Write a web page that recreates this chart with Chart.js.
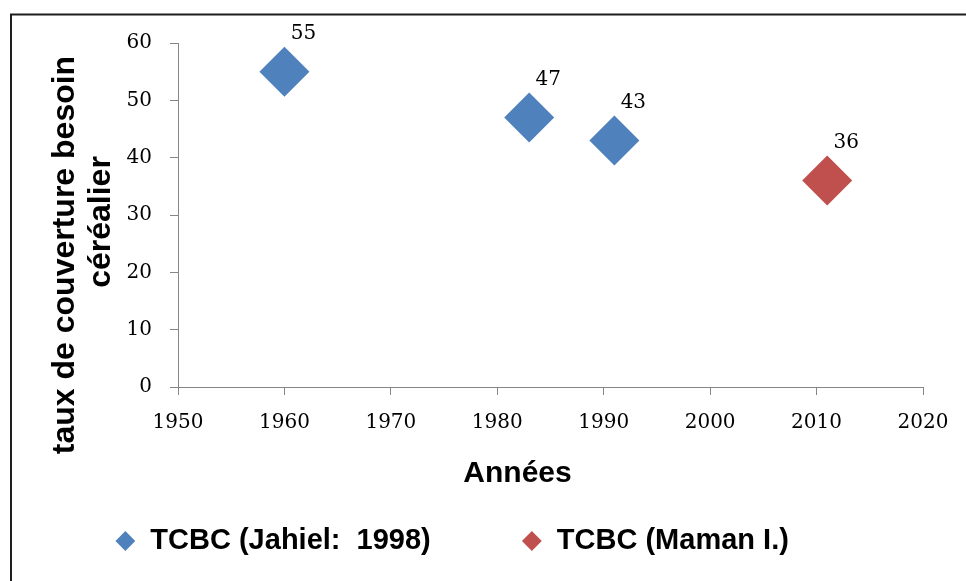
<!DOCTYPE html>
<html>
<head>
<meta charset="utf-8">
<script src="https://cdn.jsdelivr.net/npm/chart.js@4/dist/chart.umd.min.js"></script>
<style>
  html, body { margin: 0; padding: 0; background: #ffffff; }
  #wrap { position: relative; width: 966px; height: 581px; }
  canvas { display: block; }
</style>
</head>
<body>
<div id="wrap"><canvas id="c" width="966" height="581"></canvas></div>
<script>
// ---- data ----
const seriesNames = ['TCBC (Jahiel:  1998)', 'TCBC (Maman I.)'];
const jahielYears = [1960, 1983, 1991];
const jahielValues = [55, 47, 43];
const mamanYears = [2011];
const mamanValues = [36];
const xTickValues = [1950, 1960, 1970, 1980, 1990, 2000, 2010, 2020];
const xTickLabels = ['1950', '1960', '1970', '1980', '1990', '2000', '2010', '2020'];
const yTickValues = [0, 10, 20, 30, 40, 50, 60];
const yTickLabels = ['0', '10', '20', '30', '40', '50', '60'];
const xTitle = 'Années';
const yTitleLines = ['taux de couverture besoin', 'céréalier'];

const BLUE = '#4F81BD';
const RED = '#C0504D';
const AXIS = '#868686';

const toPoints = (xs, ys) => xs.map((x, i) => ({ x: x, y: ys[i] }));

const frame = {
  id: 'frame',
  beforeDraw(chart) {
    const ctx = chart.ctx;
    ctx.save();
    ctx.fillStyle = '#ffffff';
    ctx.fillRect(0, 0, chart.width, chart.height);
    ctx.strokeStyle = '#1e1e1e';
    ctx.lineWidth = 2;
    ctx.strokeRect(11, 14.5, 2000, 2000);
    ctx.restore();
  }
};

const decorations = {
  id: 'decorations',
  afterDraw(chart) {
    const ctx = chart.ctx;
    const area = chart.chartArea;
    ctx.save();
    // data labels
    ctx.fillStyle = '#000';
    ctx.font = '20px "DejaVu Serif"';
    ctx.textAlign = 'center';
    ctx.textBaseline = 'middle';
    chart.data.datasets.forEach((ds, di) => {
      const meta = chart.getDatasetMeta(di);
      meta.data.forEach((pt, i) => {
        ctx.fillText(String(ds.data[i].y), pt.x + 19, pt.y - 38);
      });
    });
    // x axis title
    ctx.font = 'bold 30px "Liberation Sans"';
    ctx.fillText(xTitle, (area.left + area.right) / 2 - 33, 474);
    // y axis title (two lines, rotated)
    ctx.font = 'bold 32px "Liberation Sans"';
    const mid = (area.top + area.bottom) / 2;
    const offsets = [40, 7];
    yTitleLines.forEach((line, i) => {
      ctx.save();
      ctx.translate(area.left - 113 + i * 36, mid + offsets[i]);
      ctx.rotate(-Math.PI / 2);
      ctx.fillText(line, 0, 0);
      ctx.restore();
    });
    ctx.restore();
  }
};

new Chart(document.getElementById('c'), {
  type: 'scatter',
  data: {
    datasets: [
      {
        label: seriesNames[0],
        data: toPoints(jahielYears, jahielValues),
        pointStyle: 'rectRot',
        pointRadius: 25,
        pointHoverRadius: 25,
        backgroundColor: BLUE,
        borderColor: BLUE,
        borderWidth: 0
      },
      {
        label: seriesNames[1],
        data: toPoints(mamanYears, mamanValues),
        pointStyle: 'rectRot',
        pointRadius: 25,
        pointHoverRadius: 25,
        backgroundColor: RED,
        borderColor: RED,
        borderWidth: 0
      }
    ]
  },
  options: {
    responsive: false,
    animation: false,
    events: [],
    layout: { padding: { left: 21, right: 43, top: 43, bottom: 15.5 } },
    scales: {
      x: {
        type: 'linear',
        min: 1950,
        max: 2020,
        afterBuildTicks(scale) { scale.ticks = xTickValues.map(v => ({ value: v })); },
        afterFit(scale) { scale.height = 129.5; },
        ticks: {
          padding: 15.5,
          color: '#000',
          font: { family: 'DejaVu Serif', size: 20 },
          maxRotation: 0,
          autoSkip: false,
          callback: (v) => xTickLabels[xTickValues.indexOf(v)]
        },
        grid: { drawOnChartArea: false, drawTicks: true, tickLength: 8, color: AXIS, tickColor: AXIS },
        border: { display: true, color: AXIS, width: 1 },
        title: { display: false }
      },
      y: {
        type: 'linear',
        min: 0,
        max: 60,
        afterBuildTicks(scale) { scale.ticks = yTickValues.map(v => ({ value: v })); },
        afterFit(scale) { scale.width = 157; },
        ticks: {
          padding: 18,
          color: '#000',
          font: { family: 'DejaVu Serif', size: 20 },
          callback: (v) => yTickLabels[yTickValues.indexOf(v)]
        },
        grid: { drawOnChartArea: false, drawTicks: true, tickLength: 8, color: AXIS, tickColor: AXIS },
        border: { display: true, color: AXIS, width: 1 },
        title: { display: false }
      }
    },
    plugins: {
      tooltip: { enabled: false },
      legend: {
        display: true,
        position: 'bottom',
        labels: {
          usePointStyle: true,
          boxWidth: 21,
          boxHeight: 14,
          padding: 10,
          color: '#000',
          font: { family: 'Liberation Sans', size: 29, weight: 'bold' },
          generateLabels(chart) {
            const items = Chart.defaults.plugins.legend.labels.generateLabels(chart);
            items[0].text = items[0].text + '\u00a0'.repeat(10);
            items[1].text = items[1].text + '\u00a0'.repeat(5);
            return items;
          }
        }
      }
    }
  },
  plugins: [frame, decorations]
});
</script>
</body>
</html>
